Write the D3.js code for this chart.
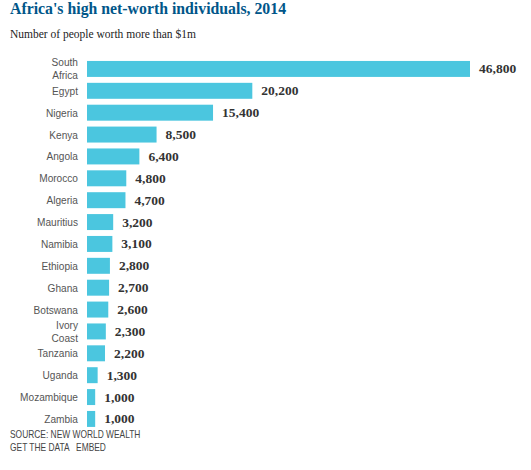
<!DOCTYPE html>
<html>
<head>
<meta charset="utf-8">
<script src="https://cdnjs.cloudflare.com/ajax/libs/d3/7.8.5/d3.min.js"></script>
<style>
  body { margin: 0; background: #fff; }
  svg { display: block; }
</style>
</head>
<body>
<div id="chart"></div>
<script>
// Africa's HNWIs, 2014 - source: New World Wealth
var countries = ["South Africa", "Egypt", "Nigeria", "Kenya", "Angola", "Morocco", "Algeria",
  "Mauritius", "Namibia", "Ethiopia", "Ghana", "Botswana", "Ivory Coast", "Tanzania",
  "Uganda", "Mozambique", "Zambia"];
var millionaires = [46800, 20200, 15400, 8500, 6400, 4800, 4700, 3200, 3100, 2800, 2700,
  2600, 2300, 2200, 1300, 1000, 1000];
// labels that wrap onto two lines
var wrapped = { "South Africa": ["South", "Africa"], "Ivory Coast": ["Ivory", "Coast"] };

(function() {
    var width = 531, height = 470;
    var left = 87, right = 470;
    var top = 58, step = 21.875;
    var sans = "'Liberation Sans', Arial, sans-serif";

    var svg = d3.select("#chart").append("svg")
        .attr("width", width)
        .attr("height", height);

    var x = d3.scaleLinear()
        .domain([0, d3.max(millionaires)])
        .range([left, right]);

    var y = d3.scaleBand()
        .domain(countries)
        .range([top, top + step * countries.length])
        .paddingInner(0.27)
        .paddingOuter(0.135);

    var data = countries.map(function(c, i) { return { name: c, value: millionaires[i] }; });

    // Title + subtitle
    svg.append("text")
        .attr("x", 10).attr("y", 14)
        .attr("fill", "#005689")
        .attr("font-family", "'Liberation Serif', serif")
        .attr("font-weight", "bold")
        .attr("font-size", 15.8)
        .text("Africa's high net-worth individuals, 2014");

    svg.append("text")
        .attr("x", 10).attr("y", 38)
        .attr("fill", "#222")
        .attr("font-family", "'Liberation Serif', serif")
        .attr("font-size", 11.5)
        .text("Number of people worth more than $1m");

    // Bars
    svg.selectAll(".bar").data(data)
        .enter().append("rect")
        .attr("class", "bar")
        .attr("x", x(0))
        .attr("y", function(d) { return y(d.name); })
        .attr("width", function(d) { return x(d.value) - x(0); })
        .attr("height", y.bandwidth())
        .attr("fill", "#4bc6df");

    // Country labels (squeezed a bit, the original face is narrower)
    var labels = svg.selectAll(".lbl").data(data)
        .enter().append("text")
        .attr("class", "lbl")
        .attr("text-anchor", "end")
        .attr("fill", "#555")
        .attr("font-family", sans)
        .attr("font-size", 11.5)
        .attr("transform", function(d) {
            return "translate(78," + (y(d.name) + y.bandwidth() / 2) + ") scale(0.88,1)";
        });

    labels.each(function(d) {
        var lines = wrapped[d.name] || [d.name];
        var el = d3.select(this);
        lines.forEach(function(l, i) {
            el.append("tspan")
                .attr("x", 0)
                .attr("y", (i - (lines.length - 1) / 2) * 13 + 4)
                .text(l);
        });
    });

    // Value labels
    svg.selectAll(".val").data(data)
        .enter().append("text")
        .attr("class", "val")
        .attr("x", function(d) { return x(d.value) + 9; })
        .attr("y", function(d) { return y(d.name) + y.bandwidth() / 2 + 4.5; })
        .attr("fill", "#333")
        .attr("font-family", "'Liberation Serif', serif")
        .attr("font-weight", "bold")
        .attr("font-size", 13.5)
        .text(function(d) { return d3.format(",")(d.value); });

    // Footer
    var foot = svg.append("g").attr("transform", "translate(10,0) scale(0.8,1)")
        .attr("fill", "#444")
        .attr("font-family", sans)
        .attr("font-size", 10.5);

    foot.append("text").attr("y", 438).text("SOURCE: NEW WORLD WEALTH");
    foot.append("text").attr("y", 451)
        .attr("xml:space", "preserve")
        .text("GET THE DATA   EMBED");
})();
</script>
</body>
</html>
